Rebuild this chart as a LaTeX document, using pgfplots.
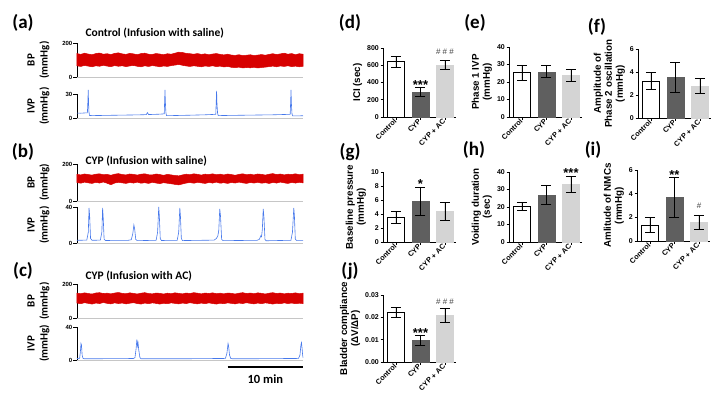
\documentclass[border=0pt]{standalone}
\usepackage{pgfplots}
\pgfplotsset{compat=1.18}
\usepackage{fontspec}
\setmainfont{Liberation Sans}
\newfontfamily\calfont{Carlito}
\definecolor{bpred}{RGB}{215,0,0}
\definecolor{ivpblue}{RGB}{70,120,235}
\definecolor{cypgray}{RGB}{95,95,95}
\definecolor{acgray}{RGB}{212,212,212}
\tikzset{
  stars/.style={font=\bfseries\fontsize{13}{13}\selectfont, anchor=base, yshift=-7.5pt},
  hashes/.style={font=\fontsize{8}{8}\selectfont, anchor=base, yshift=-2.8pt, text=black!75},
}
\pgfplotsset{
  trace/.style={scale only axis, width=226pt, xmin=0, xmax=30, ymin=0, clip=false,
    axis x line*=bottom, axis y line*=left, xtick=\empty,
    x axis line style={draw=gray!45, line width=0.6pt},
    y axis line style={line width=0.9pt},
    tick align=outside, major tick length=3.5pt, ytick style={line width=0.9pt, black},
    yticklabel style={font=\bfseries\fontsize{6}{7}\selectfont, inner sep=1pt},
    /pgf/number format/assume math mode=true,
    ylabel style={font=\calfont\bfseries\fontsize{11}{13}\selectfont, align=center, at={(axis description cs:-0.17,0.5)}, anchor=center},
  },
  bp/.style={trace, ymax=200, ytick={0,200}, ylabel={BP\\(mmHg)}},
  ivp/.style={trace, ylabel={IVP\\(mmHg)}},
  band/.style={fill=bpred, draw=bpred, line width=0.5pt},
  bars/.style={scale only axis, width=73pt, xmin=-0.53, xmax=2.45, ymin=0, clip=false,
    axis x line*=bottom, axis y line*=left,
    axis line style={line width=0.9pt},
    xtick={0,1,2}, xticklabels={Control,CYP,CYP + AC},
    tick align=outside, major tick length=2.5pt, tick style={line width=0.9pt, black},
    xticklabel style={rotate=45, anchor=east, font=\bfseries\fontsize{7.3}{8}\selectfont, inner sep=1pt},
    yticklabel style={font=\bfseries\fontsize{7}{8}\selectfont, inner sep=1.5pt},
    /pgf/number format/assume math mode=true,
    ylabel style={font=\bfseries\fontsize{9.8}{11}\selectfont, align=center},
  },
  errb/.style={error bars/.cd, y dir=both, y explicit, error bar style={line width=0.9pt, black}, error mark options={rotate=90, mark size=5pt, line width=0.9pt, black}},
  ctl/.style={ybar, bar width=0.7, bar shift=0pt, fill=white, draw=black, line width=1pt, errb},
  cyp/.style={ybar, bar width=0.7, bar shift=0pt, fill=cypgray, draw=cypgray, line width=0.5pt, errb},
  acb/.style={ybar, bar width=0.7, bar shift=0pt, fill=acgray, draw=acgray, line width=0.5pt, errb},
}
\begin{document}
\begin{tikzpicture}[x=1pt,y=1pt]
\path[use as bounding box] (0pt,0pt) rectangle (714pt,400pt);
% panel labels
\foreach \l/\px/\py in {a/23/377, b/23/248, c/23/129, d/350/377, g/350/248, j/350/129, e/475/377, h/474/250, f/597/373, i/593/250}
  \node[font=\calfont\bfseries\fontsize{19}{19}\selectfont] at (\px pt,\py pt) {(\l)};
\node[anchor=west, font=\calfont\bfseries\fontsize{11.5}{12}\selectfont] at (82pt,367pt) {Control (Infusion with saline)};
\node[anchor=west, font=\calfont\bfseries\fontsize{11.5}{12}\selectfont] at (82pt,239pt) {CYP (Infusion with saline)};
\node[anchor=west, font=\calfont\bfseries\fontsize{11.5}{12}\selectfont] at (82pt,124pt) {CYP (Infusion with AC)};

% ---------- (a) BP  (upper envelope, then lower envelope backwards)
\begin{axis}[bp, height=34pt, at={(77pt,323pt)}, anchor=south west]
\addplot[band] table[row sep=\\]{x y\\
0 138\\0.5 133\\1 140\\1.5 135\\2 131\\2.5 138\\3 141\\3.5 134\\4 137\\4.5 132\\5 139\\5.5 142\\6 136\\6.5 133\\7 139\\7.5 136\\8 131\\8.5 138\\9 140\\9.5 134\\10 133\\10.5 138\\11 135\\11.5 131\\12 137\\12.5 134\\13 140\\13.5 146\\14 144\\14.5 139\\15 137\\15.5 134\\16 138\\16.5 133\\17 136\\17.5 131\\18 135\\18.5 138\\19 133\\19.5 130\\20 134\\20.5 129\\21 127\\21.5 131\\22 126\\22.5 128\\23 131\\23.5 126\\24 129\\24.5 132\\25 128\\25.5 133\\26 137\\26.5 132\\27 136\\27.5 140\\28 134\\28.5 138\\29 131\\29.5 137\\30 134\\
30 63\\29.5 60\\29 64\\28.5 61\\28 66\\27.5 62\\27 65\\26.5 60\\26 64\\25.5 61\\25 58\\24.5 56\\24 53\\23.5 57\\23 54\\22.5 56\\22 53\\21.5 58\\21 55\\20.5 57\\20 62\\19.5 59\\19 64\\18.5 61\\18 66\\17.5 62\\17 65\\16.5 60\\16 63\\15.5 66\\15 62\\14.5 65\\14 69\\13.5 74\\13 70\\12.5 67\\12 62\\11.5 65\\11 60\\10.5 64\\10 67\\9.5 62\\9 66\\8.5 60\\8 63\\7.5 68\\7 65\\6.5 61\\6 66\\5.5 63\\5 67\\4.5 61\\4 64\\3.5 69\\3 63\\2.5 66\\2 60\\1.5 64\\1 68\\0.5 62\\0 66\\} -- cycle;
\end{axis}
% ---------- (a) IVP
\begin{axis}[ivp, height=24pt, ymax=30, ytick={0,30}, at={(77pt,282pt)}, anchor=south west]
\addplot[ivpblue, line width=0.6pt] table[row sep=\\]{x y\\
0 6.2\\0.5 6.0\\1.0 6.3\\1.38 6.5\\1.44 20\\1.49 35\\1.53 22\\1.58 8\\1.66 3.2\\2 3.0\\4 3.3\\6 3.6\\8 3.9\\9.2 4.2\\9.35 6.8\\9.5 4.3\\11 4.8\\11.58 5.2\\11.63 20\\11.68 35\\11.73 20\\11.8 7\\11.88 2.9\\13 3.1\\15 3.5\\17 4.0\\18.42 4.6\\18.48 20\\18.53 34\\18.58 18\\18.66 6\\18.75 3.0\\20 3.2\\23 3.6\\26 4.0\\28.3 4.6\\28.36 20\\28.41 35\\28.46 18\\28.54 5\\28.64 2.6\\30 2.8\\};
\end{axis}

% ---------- (b) BP
\begin{axis}[bp, height=37pt, at={(77pt,199pt)}, anchor=south west]
\addplot[band] table[row sep=\\]{x y\\
0 144\\0.5 141\\1 146\\1.5 143\\2 140\\2.5 145\\3 147\\3.5 142\\4 144\\4.5 139\\5 145\\5.5 148\\6 143\\6.5 141\\7 146\\7.5 144\\8 140\\8.5 145\\9 147\\9.5 142\\10 141\\10.5 146\\11 143\\11.5 139\\12 144\\12.5 141\\13 138\\13.5 136\\14 141\\14.5 145\\15 142\\15.5 147\\16 144\\16.5 140\\17 145\\17.5 143\\18 147\\18.5 142\\19 145\\19.5 141\\20 146\\20.5 143\\21 139\\21.5 144\\22 147\\22.5 142\\23 145\\23.5 141\\24 146\\24.5 144\\25 140\\25.5 145\\26 148\\26.5 143\\27 146\\27.5 141\\28 145\\28.5 143\\29 147\\29.5 142\\30 145\\
30 98\\29.5 101\\29 97\\28.5 100\\28 95\\27.5 98\\27 102\\26.5 97\\26 100\\25.5 95\\25 99\\24.5 96\\24 101\\23.5 97\\23 100\\22.5 95\\22 98\\21.5 102\\21 97\\20.5 100\\20 95\\19.5 99\\19 96\\18.5 102\\18 97\\17.5 100\\17 95\\16.5 98\\16 101\\15.5 96\\15 100\\14.5 97\\14 92\\13.5 87\\13 90\\12.5 93\\12 96\\11.5 99\\11 94\\10.5 97\\10 101\\9.5 95\\9 99\\8.5 96\\8 102\\7.5 97\\7 100\\6.5 95\\6 98\\5.5 101\\5 97\\4.5 88\\4 96\\3.5 103\\3 97\\2.5 101\\2 95\\1.5 98\\1 102\\0.5 96\\0 100\\} -- cycle;
\end{axis}
% ---------- (b) IVP
\begin{axis}[ivp, height=36pt, ymax=40, ytick={0,40}, at={(77pt,157pt)}, anchor=south west]
\addplot[ivpblue, line width=0.6pt] table[row sep=\\]{x y\\
0 3.0\\1.3 3.2\\1.5 12\\1.6 39\\1.68 30\\1.8 5\\2 3\\3.1 3.2\\3.3 12\\3.4 39\\3.48 28\\3.6 4\\3.8 2.8\\6.8 3.0\\7.2 3.6\\7.4 10\\7.55 20\\7.65 16\\7.8 4\\8 2.6\\10.5 3.0\\10.7 12\\10.85 40\\10.93 30\\11.05 5\\11.2 2.8\\13.3 3.0\\13.5 12\\13.65 39\\13.73 30\\13.85 5\\14 2.7\\18.2 3.2\\18.5 5\\18.7 8\\18.82 14\\18.95 38\\19.05 30\\19.2 4\\19.4 2.6\\23.9 3.0\\24.2 4\\24.4 8\\24.5 7\\24.6 15\\24.72 38\\24.82 28\\24.95 4\\25.1 2.5\\28.4 3.0\\28.6 12\\28.78 39\\28.86 30\\28.98 4\\29.2 2.6\\30 2.7\\};
\end{axis}

% ---------- (c) BP
\begin{axis}[bp, height=34pt, at={(77pt,82pt)}, anchor=south west]
\addplot[band] table[row sep=\\]{x y\\
0 146\\0.5 143\\1 148\\1.5 144\\2 141\\2.5 147\\3 149\\3.5 144\\4 146\\4.5 142\\5 147\\5.5 150\\6 145\\6.5 143\\7 148\\7.5 145\\8 141\\8.5 146\\9 149\\9.5 144\\10 142\\10.5 147\\11 145\\11.5 141\\12 146\\12.5 143\\13 148\\13.5 145\\14 142\\14.5 147\\15 144\\15.5 149\\16 146\\16.5 142\\17 147\\17.5 144\\18 148\\18.5 143\\19 146\\19.5 142\\20 147\\20.5 145\\21 141\\21.5 146\\22 149\\22.5 144\\23 147\\23.5 143\\24 148\\24.5 145\\25 141\\25.5 146\\26 149\\26.5 144\\27 147\\27.5 142\\28 146\\28.5 144\\29 148\\29.5 143\\30 146\\
30 85\\29.5 87\\29 84\\28.5 88\\28 85\\27.5 89\\27 84\\26.5 87\\26 82\\25.5 86\\25 89\\24.5 84\\24 88\\23.5 83\\23 86\\22.5 90\\22 85\\21.5 88\\21 83\\20.5 86\\20 89\\19.5 84\\19 87\\18.5 82\\18 85\\17.5 89\\17 84\\16.5 88\\16 83\\15.5 86\\15 90\\14.5 85\\14 88\\13.5 83\\13 86\\12.5 89\\12 84\\11.5 87\\11 82\\10.5 86\\10 89\\9.5 84\\9 88\\8.5 82\\8 85\\7.5 90\\7 87\\6.5 83\\6 88\\5.5 85\\5 89\\4.5 83\\4 86\\3.5 91\\3 85\\2.5 88\\2 82\\1.5 86\\1 90\\0.5 84\\0 88\\} -- cycle;
\end{axis}
% ---------- (c) IVP
\begin{axis}[ivp, height=33pt, ymax=40, ytick={0,40}, at={(77pt,40pt)}, anchor=south west]
\addplot[ivpblue, line width=0.6pt] table[row sep=\\]{x y\\
0 1.8\\0.35 2.0\\0.45 10\\0.53 20\\0.6 18\\0.68 6\\0.8 2\\1.0 1.5\\4 1.6\\7.5 1.8\\7.7 3\\7.85 14\\7.95 25\\8.02 17\\8.1 21\\8.2 12\\8.35 3\\8.5 1.5\\12 1.5\\16 1.6\\19.7 1.9\\19.9 8\\20.05 20\\20.12 17\\20.25 6\\20.4 2\\20.6 1.5\\25 1.6\\29.4 1.9\\29.6 6\\29.72 18\\29.8 21\\29.88 14\\29.95 6\\30 3\\};
\addplot[black, line width=1.8pt] coordinates {(20,-8.5) (30,-8.5)};
\node[font=\calfont\bfseries\fontsize{12.5}{13}\selectfont] at (axis cs:25,-23) {10 min};
\end{axis}

% ---------- (d)
\begin{axis}[bars, height=69pt, ymax=800, ytick={0,200,400,600,800}, ylabel={ICI (sec)}, at={(383pt,283pt)}, anchor=south west]
\addplot[ctl] coordinates {(0,640) +- (0,65)};
\addplot[cyp] coordinates {(1,290) +- (0,50)};
\addplot[acb] coordinates {(2,598) +- (0,52)};
\node[stars] at (axis cs:1,406) {***};
\node[hashes] at (axis cs:2,754) {\#\ \#\ \#};
\end{axis}
% ---------- (e)
\begin{axis}[bars, height=70pt, ymax=40, ytick={0,10,20,30,40}, ylabel={Phase 1 IVP\\(mmHg)}, at={(509pt,283pt)}, anchor=south west]
\addplot[ctl] coordinates {(0,25.3) +- (0,4.2)};
\addplot[cyp] coordinates {(1,25.8) +- (0,3.4)};
\addplot[acb] coordinates {(2,23.8) +- (0,3.5)};
\end{axis}
% ---------- (f)
\begin{axis}[bars, height=69pt, ymax=6, ytick={0,2,4,6}, ylabel={Amplitude of\\Phase 2 oscillation\\(mmHg)}, at={(638pt,282pt)}, anchor=south west]
\addplot[ctl] coordinates {(0,3.2) +- (0,0.75)};
\addplot[cyp] coordinates {(1,3.52) +- (0,1.3)};
\addplot[acb] coordinates {(2,2.75) +- (0,0.65)};
\end{axis}
% ---------- (g)
\begin{axis}[bars, height=70pt, ymax=10, ytick={0,2,4,6,8,10}, ylabel={Baseline pressure\\(mmHg)}, at={(383pt,158pt)}, anchor=south west]
\addplot[ctl] coordinates {(0,3.5) +- (0,0.9)};
\addplot[cyp] coordinates {(1,5.85) +- (0,2.0)};
\addplot[acb] coordinates {(2,4.4) +- (0,1.25)};
\node[stars] at (axis cs:1,8.7) {*};
\end{axis}
% ---------- (h)
\begin{axis}[bars, height=70pt, ymax=40, ytick={0,10,20,30,40}, ylabel={Voiding duration\\(sec)}, at={(509pt,158pt)}, anchor=south west]
\addplot[ctl] coordinates {(0,20.3) +- (0,2.1)};
\addplot[cyp] coordinates {(1,26.7) +- (0,5.5)};
\addplot[acb] coordinates {(2,33.0) +- (0,4.6)};
\node[stars] at (axis cs:2,41.1) {***};
\end{axis}
% ---------- (i)
\begin{axis}[bars, height=71pt, ymax=6, ytick={0,2,4,6}, ylabel={Amlitude of NMCs\\(mmHg)}, at={(637pt,159pt)}, anchor=south west]
\addplot[ctl] coordinates {(0,1.35) +- (0,0.65)};
\addplot[cyp] coordinates {(1,3.67) +- (0,1.67)};
\addplot[acb] coordinates {(2,1.6) +- (0,0.6)};
\node[stars] at (axis cs:1,5.83) {**};
\node[hashes] at (axis cs:2,2.96) {\#};
\end{axis}
% ---------- (j)
\begin{axis}[bars, height=67pt, ymax=0.03, ytick={0,0.01,0.02,0.03}, scaled y ticks=false,
  yticklabel style={/pgf/number format/.cd, fixed, fixed zerofill, precision=2},
  ylabel={Bladder compliance\\(ΔV/ΔP)}, at={(383pt,38pt)}, anchor=south west]
\addplot[ctl] coordinates {(0,0.0221) +- (0,0.0022)};
\addplot[cyp] coordinates {(1,0.0098) +- (0,0.0022)};
\addplot[acb] coordinates {(2,0.0208) +- (0,0.0032)};
\node[stars] at (axis cs:1,0.01433) {***};
\node[hashes] at (axis cs:2,0.0269) {\#\ \#\ \#};
\end{axis}
\end{tikzpicture}
\end{document}
